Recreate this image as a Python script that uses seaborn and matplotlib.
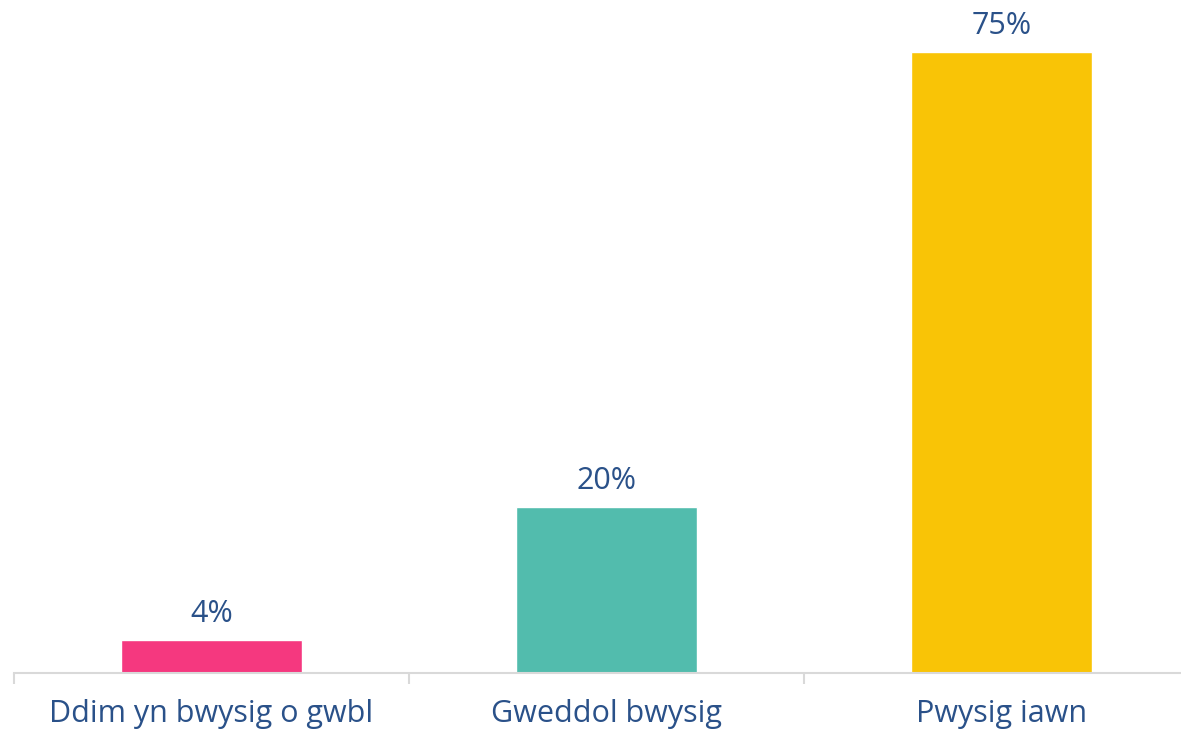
import pandas as pd
import matplotlib.pyplot as plt
import seaborn as sns

# --- DADOS ---
categories = ["Ddim yn bwysig o gwbl", "Gweddol bwysig", "Pwysig iawn"]
values = [4, 20, 75]
labels = ["4%", "20%", "75%"]
colors = ["#f5387f", "#52bcad", "#f9c406"]

TEXT = "#2a5189"
AXIS = "#d9d9d9"

df = pd.DataFrame({"cat": categories, "val": values})

sns.set_style("white")
plt.rcParams["font.family"] = ["Open Sans", "DejaVu Sans"]

fig = plt.figure(figsize=(11.81, 7.31), dpi=100)
# axes runs a little past the right edge, like the original
ax = fig.add_axes([14 / 1181, 1 - 673 / 731, 1185 / 1181, 673 / 731])

sns.barplot(data=df, x="cat", y="val", hue="cat", palette=colors,
            width=0.456, legend=False, ax=ax, saturation=1)

ax.set_xlim(-0.5, 2.5)
ax.set_ylim(0, 81.3)

# rótulos de valor
for i, (v, lab) in enumerate(zip(values, labels)):
    ax.annotate(lab, (i, v), xytext=(0, 8), textcoords="offset points",
                ha="center", va="bottom", fontsize=22, color=TEXT)

ax.set_xlabel("")
ax.set_ylabel("")
ax.set_yticks([])
ax.set_xticks([0, 1, 2])
ax.set_xticklabels(categories, fontsize=22, color=TEXT)
ax.tick_params(axis="x", which="major", bottom=True, length=0, pad=19)

# marcas entre categorias
ax.set_xticks([-0.5, 0.5, 1.5, 2.5], minor=True)
ax.tick_params(axis="x", which="minor", bottom=True, length=8, width=1.5,
               color=AXIS, direction="out")

for s in ["top", "right", "left"]:
    ax.spines[s].set_visible(False)
ax.spines["bottom"].set_color(AXIS)
ax.spines["bottom"].set_linewidth(1.5)

fig.savefig("out.png", dpi=100)
